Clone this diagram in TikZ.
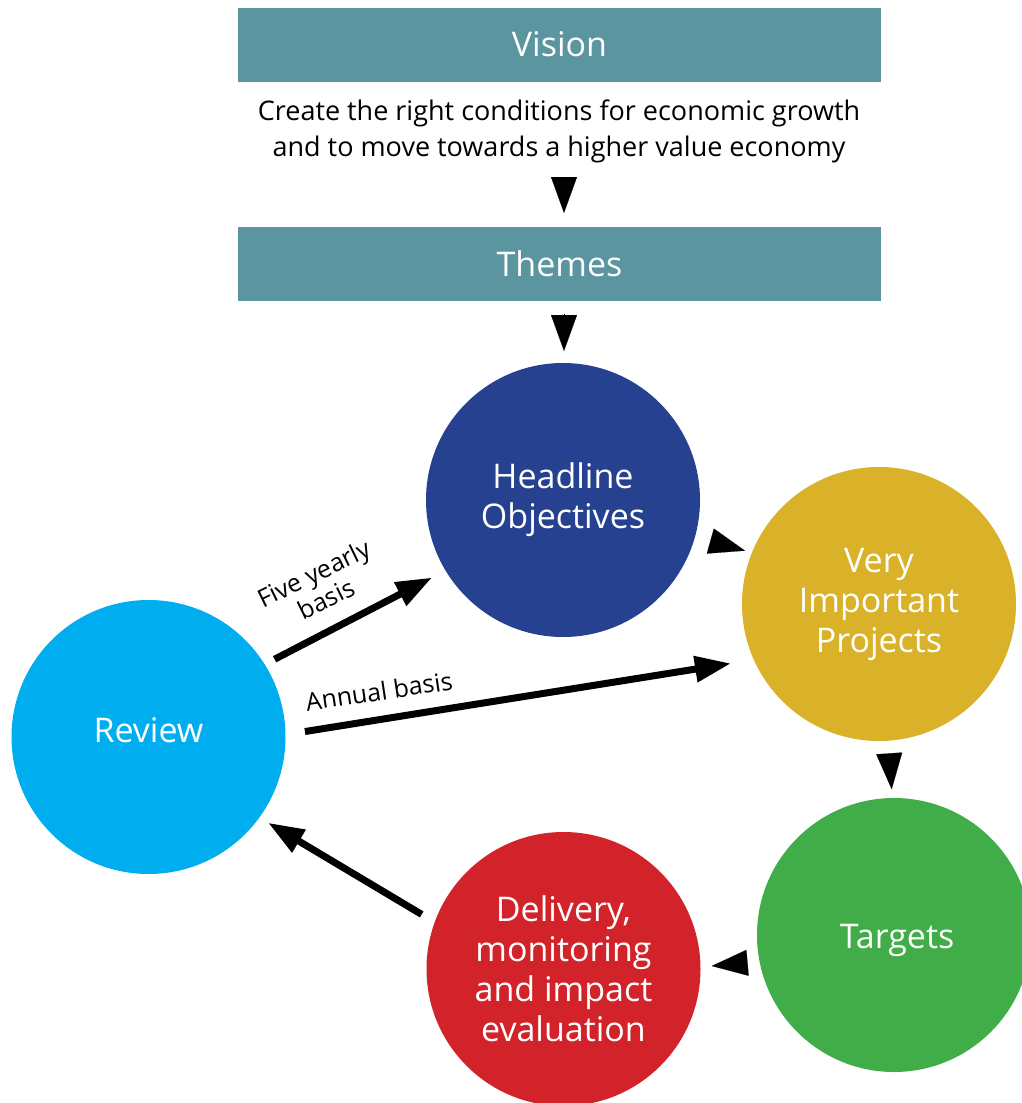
\documentclass[tikz,border=0pt]{standalone}
\usepackage{fontspec}
\setmainfont{Open Sans}
\usetikzlibrary{arrows.meta}
\definecolor{teal}{RGB}{91,149,160}
\definecolor{hoblue}{RGB}{38,65,143}
\definecolor{vipgold}{RGB}{218,178,41}
\definecolor{revcyan}{RGB}{0,174,239}
\definecolor{tgtgreen}{RGB}{65,173,73}
\definecolor{delred}{RGB}{210,35,43}
\tikzset{
  bandbox/.style={fill=teal, minimum width=643pt, minimum height=74pt, inner sep=0pt,
    text=white, font=\fontsize{34}{40}\selectfont},
  bodytext/.style={align=center, font=\fontsize{27}{36}\selectfont},
  circ/.style={circle, minimum size=274pt, inner sep=0pt, text=white, align=center,
    font=\fontsize{34}{40}\selectfont},
  headtri/.style={-{Triangle[length=36pt,width=26pt]}, line width=0.1pt, black},
  bigarrow/.style={line width=7pt, -{Triangle[length=36pt,width=25pt]}, black},
  lbl/.style={align=center, font=\fontsize{25}{28}\selectfont}
}
\begin{document}
\begin{tikzpicture}[x=1pt,y=-1pt]
\useasboundingbox (0,0) rectangle (1022,1103);
\clip (0,0) rectangle (1022,1103);
% boxes
\node[bandbox] (vision) at (559.5,44.5) {Vision};
\node[bodytext] (mission) at (559,131) {Create the right conditions for economic growth\\and to move towards a higher value economy};
\node[bandbox] (themes) at (559.5,264) {Themes};
% circles
\node[circ, fill=hoblue] (ho) at (563,500) {Headline\\Objectives};
\node[circ, fill=vipgold] (vip) at (879,604) {Very\\Important\\Projects};
\node[circ, fill=tgtgreen] (tgt) at (894,935) {\raisebox{-13pt}[0pt][0pt]{\hspace{6pt}Targets}};
\node[circ, fill=delred] (del) at (563.5,969) {Delivery,\\monitoring\\and impact\\evaluation};
\node[circ, fill=revcyan] (rev) at (148.5,737) {\raisebox{-5pt}[0pt][0pt]{Review}};
% standalone arrow heads
\coordinate (t1b) at (564,177); \coordinate (t1t) at (564,213);
\coordinate (t2b) at (564,314); \coordinate (t2t) at (564,351);
\coordinate (t3b) at (709.3,540.8); \coordinate (t3t) at (745,550.7);
\coordinate (t4b) at (889.2,753); \coordinate (t4t) at (891.7,789.3);
\coordinate (t5b) at (747.8,962.8); \coordinate (t5t) at (711.7,966);
\draw[headtri] (t1b) -- (t1t);
\draw[headtri] (t2b) -- (t2t);
\draw[headtri] (t3b) -- (t3t);
\draw[headtri] (t4b) -- (t4t);
\draw[headtri] (t5b) -- (t5t);
% big arrows
\draw[bigarrow, shorten <=11pt, shorten >=15pt] (rev.32.7) -- (ho.211.3);
\draw[bigarrow, shorten <=19.5pt, shorten >=23pt] (rev.1.5) -- (vip.204);
\draw[bigarrow, shorten <=15pt, shorten >=10pt] (del.160.4) -- (rev.324.8);
% labels
\node[lbl, rotate=26] (fy) at (320,586) {Five yearly\\basis};
\node[lbl, rotate=8.5] (ab) at (379,691) {Annual basis};
\end{tikzpicture}
\end{document}
